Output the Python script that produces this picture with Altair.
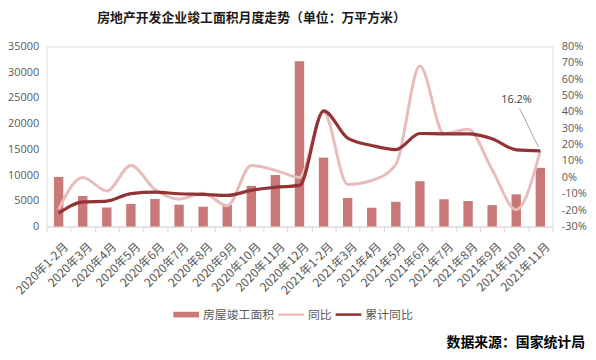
import altair as alt
import pandas as pd

months = ["2020年1-2月", "2020年3月", "2020年4月", "2020年5月", "2020年6月", "2020年7月",
          "2020年8月", "2020年9月", "2020年10月", "2020年11月", "2020年12月",
          "2021年1-2月", "2021年3月", "2021年4月", "2021年5月", "2021年6月", "2021年7月",
          "2021年8月", "2021年9月", "2021年10月", "2021年11月"]
area = [9636, 5921, 3700, 4400, 5340, 4240, 3850, 4180, 7900, 10000, 32100,
        13388, 5550, 3650, 4800, 8800, 5300, 4950, 4150, 6250, 11400]
yoy = [-19.5, 0.0, -8.3, 7.2, -7.3, -13.3, -9.7, -17.3, 7.3, 4.3, 0.0,
       39.9, -4.3, -1.9, 7.8, 68.0, 26.8, 29.4, 4.7, -19.7, 16.2]
cum_yoy = [-21.9, -15.0, -14.5, -9.9, -9.0, -10.0, -10.4, -11.0, -7.9, -6.0, -4.9,
           40.6, 24.0, 19.5, 17.0, 26.8, 26.6, 26.6, 23.6, 16.8, 16.2]

series_names = ["房屋竣工面积", "同比", "累计同比"]
series_colors = ["#c97878", "#e8bcbb", "#923336"]
legend_paths = ["M-1,-0.22H1V0.22H-1Z", "M-1,-0.09H1V0.09H-1Z", "M-1,-0.1H1V0.1H-1Z"]

title_text = "房地产开发企业竣工面积月度走势（单位：万平方米）"
source_text = "数据来源：国家统计局"

df = pd.DataFrame({"month": months, "area": area, "yoy": yoy, "cum": cum_yoy})
legend_df = pd.DataFrame({"series": series_names})
title_df = pd.DataFrame({"t": [title_text]})
source_df = pd.DataFrame({"t": [source_text]})

FONT = "Noto Sans CJK SC"
NUM = "Open Sans"
GRAY = "#595959"

x_enc = alt.X(
    "month:N", sort=months,
    scale=alt.Scale(paddingInner=0, paddingOuter=0),
    axis=alt.Axis(title=None, labelAngle=-45, labelAlign="right", labelBaseline="middle",
                  labelPadding=13, labelOffset=7, labelFont=FONT, labelFontSize=12,
                  labelColor=GRAY, domainColor="#d9d9d9", tickColor="#d9d9d9",
                  tickSize=5, tickBand="extent", grid=False),
)

left_axis = alt.Axis(title=None, orient="left", values=list(range(0, 35001, 5000)), format="d",
                     labelFont=NUM, labelFontSize=11, labelColor=GRAY, domain=False,
                     ticks=False, tickSize=0, grid=False, labelPadding=8)
right_axis = alt.Axis(title=None, orient="right", values=list(range(-30, 81, 10)),
                      labelExpr="datum.value + '%'", labelFont=NUM, labelFontSize=11,
                      labelColor=GRAY, domain=False, ticks=False, tickSize=0, grid=False,
                      labelPadding=9)
pct_scale = alt.Scale(domain=[-30, 80], nice=False, zero=False)

bars = alt.Chart(df).mark_bar(color=series_colors[0], width=9.5).encode(
    x=x_enc,
    y=alt.Y("area:Q", scale=alt.Scale(domain=[0, 35000], nice=False), axis=left_axis),
)

light = alt.Chart(df).mark_line(color=series_colors[1], strokeWidth=3,
                                interpolate="monotone").encode(
    x=x_enc, y=alt.Y("yoy:Q", scale=pct_scale, axis=right_axis))
dark = alt.Chart(df).mark_line(color=series_colors[2], strokeWidth=3.2,
                               interpolate="monotone").encode(
    x=x_enc, y=alt.Y("cum:Q", scale=pct_scale, axis=right_axis))

last = alt.Chart(df).transform_filter(alt.datum.month == months[-1])
leader = last.mark_rule(color="#8c8c8c", strokeWidth=0.8, xOffset=-2, yOffset=-4,
                        x2Offset=-21, y2Offset=-43).encode(
    x=x_enc, x2=alt.X2("month:N", bandPosition=0.5),
    y=alt.Y("cum:Q", scale=pct_scale, axis=right_axis), y2="cum:Q")
label = last.transform_calculate(lbl="format(datum.cum, '.1f') + '%'").mark_text(
    font=NUM, fontSize=11, color="#404040", dx=-24, dy=-51).encode(
    x=x_enc, y=alt.Y("cum:Q", scale=pct_scale, axis=right_axis), text="lbl:N")

pct = alt.layer(light, dark, leader, label)

leg = alt.Legend(orient="none", legendX=128, legendY=258, direction="horizontal", title=None,
                 labelFont=FONT, labelFontSize=12, labelColor=GRAY, symbolSize=676,
                 symbolOpacity=1, labelOffset=4, columnPadding=3, padding=0,
                 symbolStrokeWidth=0)
legend_pts = alt.Chart(legend_df).mark_point(filled=True, opacity=0, size=1).encode(
    color=alt.Color("series:N", sort=series_names,
                    scale=alt.Scale(domain=series_names, range=series_colors), legend=leg),
    shape=alt.Shape("series:N", sort=series_names,
                    scale=alt.Scale(domain=series_names, range=legend_paths), legend=leg),
)

title_mark = alt.Chart(title_df).mark_text(font=FONT, fontSize=13, fontWeight="bold",
                                           color="#1a1a1a", align="center",
                                           baseline="middle").encode(
    x=alt.value(207), y=alt.value(-28.5), text="t:N")
source_mark = alt.Chart(source_df).mark_text(font=FONT, fontSize=14, fontWeight="bold",
                                             color="#000000", align="right",
                                             baseline="middle").encode(
    x=alt.value(544), y=alt.value(300), text="t:N")

chart = alt.layer(bars, pct, legend_pts, title_mark, source_mark).resolve_scale(
    y="independent"
).properties(
    width=511, height=182,
    autosize=alt.AutoSizeParams(type="none"),
    padding={"left": 39, "top": 37, "right": 36, "bottom": 125},
).configure_view(stroke=None).configure(background="white")

chart.save("out.html", embed_options={"renderer": "svg", "actions": False})
